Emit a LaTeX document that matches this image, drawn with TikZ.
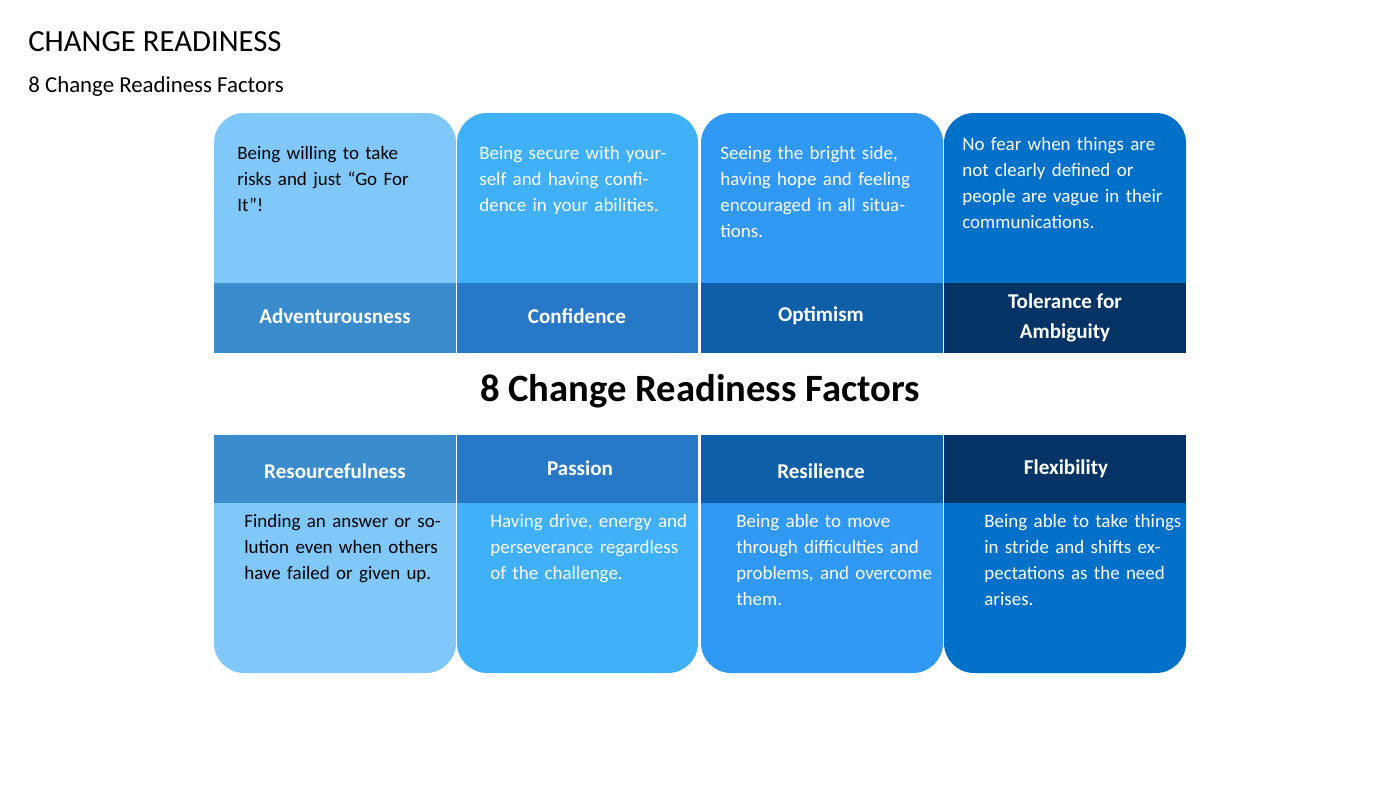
\documentclass[tikz,border=0pt]{standalone}
\usepackage{fontspec}
\setmainfont{Carlito}
\definecolor{cardA}{HTML}{80C8FA}
\definecolor{cardB}{HTML}{40B0F8}
\definecolor{cardC}{HTML}{3098F5}
\definecolor{cardD}{HTML}{0070C8}
\definecolor{bandA}{HTML}{3A8CCC}
\definecolor{bandB}{HTML}{2878C8}
\definecolor{bandC}{HTML}{0E5EA8}
\definecolor{bandD}{HTML}{043466}
\tikzset{
  bodytext/.style={anchor=north west,text width=4cm,align=left,inner sep=0pt,
    font=\fontsize{10.8}{14.8}\selectfont},
  bandtext/.style={text=white,align=center,inner sep=0pt,
    font=\fontsize{12}{17}\selectfont\bfseries},
}
\begin{document}
\begin{tikzpicture}[x=0.02cm,y=-0.02cm]
\useasboundingbox[fill=white] (0,0) rectangle (1400,788);

% titles
\node[anchor=west,inner sep=0pt,font=\fontsize{17.5}{20}\selectfont] (title) at (28,42) {CHANGE READINESS};
\node[anchor=west,inner sep=0pt,font=\fontsize{13}{16}\selectfont] (subtitle) at (28,87) {8 Change Readiness Factors};
\node[font=\fontsize{22}{26}\selectfont\bfseries] (center) at (700,391) {8 Change Readiness Factors};

% top cards and bands
\foreach \xl/\xr/\c/\b in {214/456/cardA/bandA,457/698/cardB/bandB,701/943/cardC/bandC,944/1186/cardD/bandD}{
  \fill[\c] (\xl,283) [rounded corners=0.6cm] -- (\xl,113) -- (\xr,113) [sharp corners] -- (\xr,283) -- cycle;
  \fill[\b] (\xl,283) rectangle (\xr,353);
  \fill[\b] (\xl,435) rectangle (\xr,503);
  \fill[\c] (\xl,503) -- (\xr,503) [rounded corners=0.6cm] -- (\xr,673) -- (\xl,673) [sharp corners] -- cycle;
}

% top texts
\node[bodytext] (adv) at (237,146) {Being willing to take risks and just “Go For It”!};
\node[bodytext,text=white] (conf) at (479,146) {Being secure with yourself and having confidence in your abilities.};
\node[bodytext,text=white] (opt) at (720,146) {Seeing the bright side, having hope and feeling encouraged in all situations.};
\node[bodytext,text=white,text width=4.2cm] (tol) at (962,137) {No fear when things are not clearly defined or people are vague in their communications.};

% top labels
\node[bandtext] (advl) at (335,316) {Adventurousness};
\node[bandtext] (confl) at (577,316) {Confidence};
\node[bandtext] (optl) at (821,316) {Optimism};
\node[bandtext] (toll) at (1065,318) {Tolerance for\\Ambiguity};

% bottom labels
\node[bandtext] (resl) at (335,471) {Resourcefulness};
\node[bandtext] (pasl) at (580,468) {Passion};
\node[bandtext] (resil) at (821,471) {Resilience};
\node[bandtext] (flexl) at (1066,469) {Flexibility};

% bottom texts
\node[bodytext] (res) at (244,514) {Finding an answer or solution even when others have failed or given up.};
\node[bodytext,text=white] (pas) at (490,514) {Having drive, energy and perseverance regardless of the challenge.};
\node[bodytext,text=white] (resi) at (736,514) {Being able to move through difficulties and problems, and overcome them.};
\node[bodytext,text=white] (flex) at (984,514) {Being able to take things in stride and shifts expectations as the need arises.};
\end{tikzpicture}
\end{document}
